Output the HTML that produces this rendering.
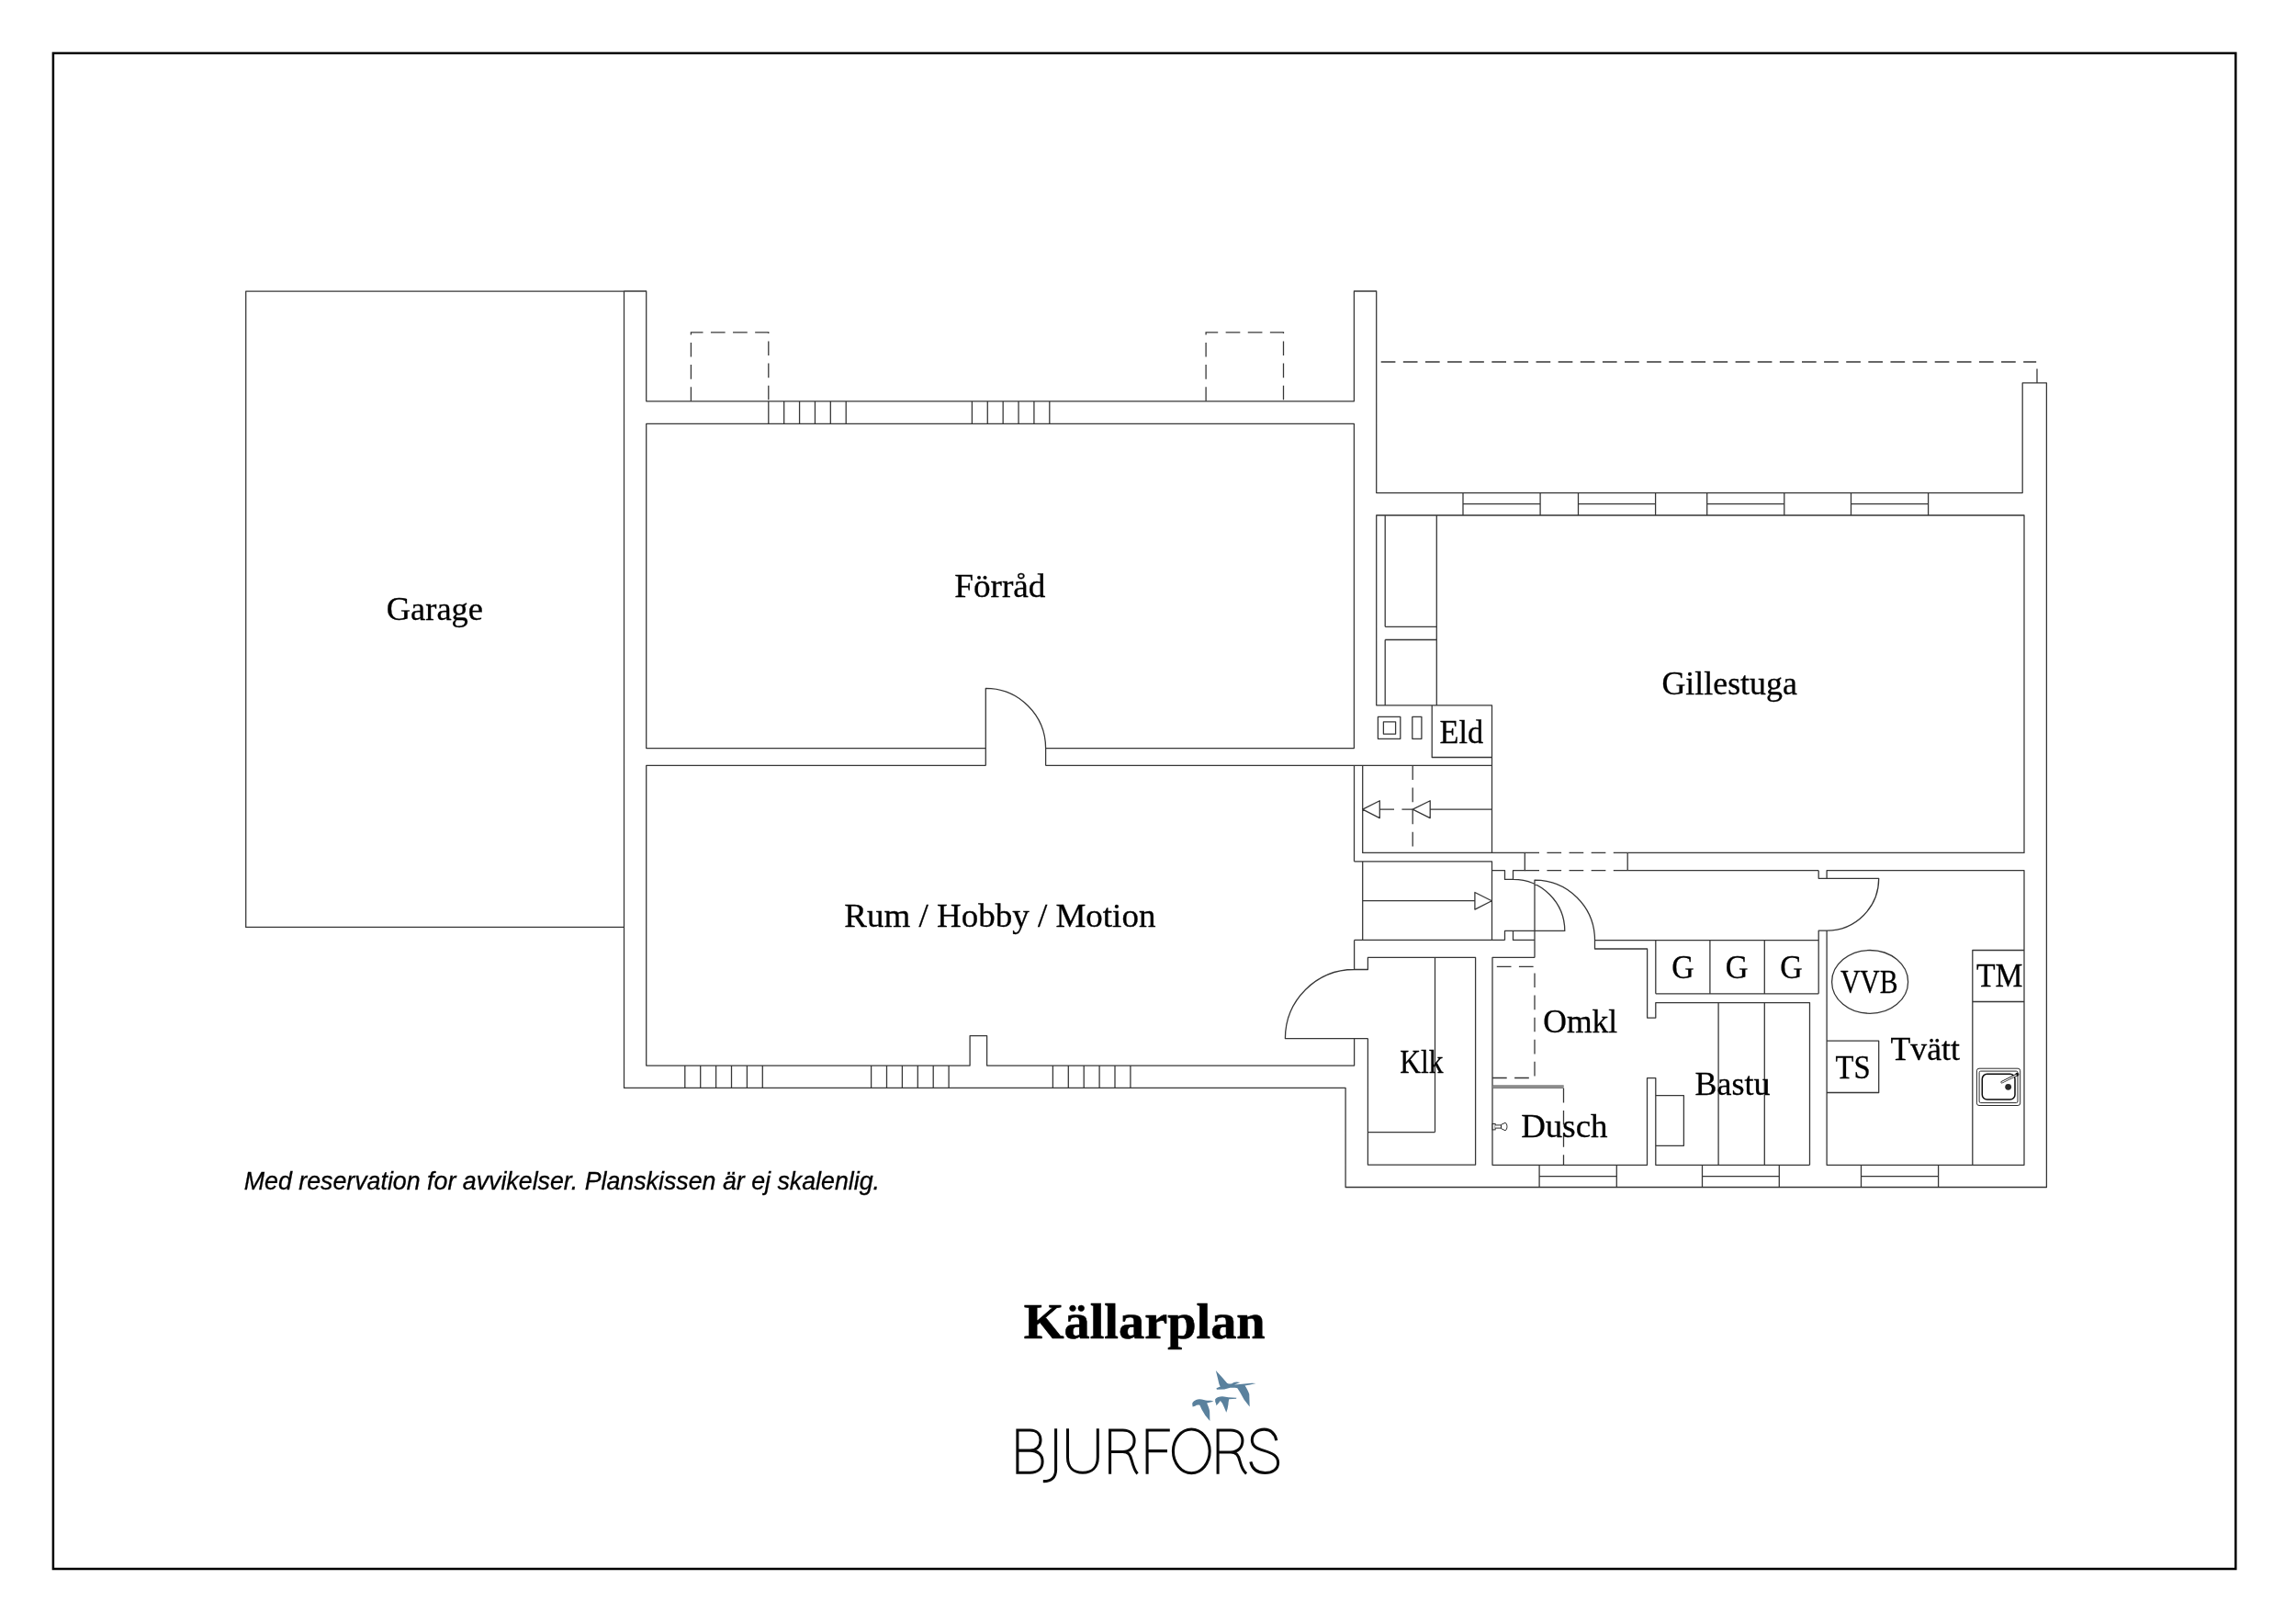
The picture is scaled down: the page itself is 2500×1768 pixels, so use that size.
<!DOCTYPE html>
<html lang="sv"><head><meta charset="utf-8"><title>Källarplan</title>
<style>html,body{margin:0;padding:0;background:#fff;}body{width:2500px;height:1768px;position:relative;overflow:hidden;font-family:"Liberation Serif",serif;}</style>
</head><body>
<svg width="2500" height="1768" viewBox="0 0 2500 1768" style="position:absolute;left:0;top:0;display:block;will-change:transform">
<rect x="0" y="0" width="2500" height="1768" fill="#fff"/>
<rect x="57.9" y="57.9" width="2376.4" height="1650.1" fill="none" stroke="#000" stroke-width="2.5"/>
<path fill="none" stroke="#363636" stroke-width="1.28" stroke-linecap="butt" stroke-linejoin="round" d="M679.5,317.2H267.7V1009.4H679.5 M679.5,317H703.7V436.85H1474.4V317H1498.7V536.6H2202.2V416.9H2228.4V1292.5H1465.1V1184.4H679.5Z M1073.3,814.6H703.7V461.4H1474.4V814.6H1138.6 M1073.3,833.4V749.4A65.3,65.3 0 0 1 1138.6,814.6V833.4 M1073.3,833.4H703.7V1160.1H1056.1V1127.6H1074.6V1160.1H1474.6V1130.6 M1138.6,833.4H1624.5 M836.8,436.85V461.4 M853.68,436.85V461.4 M870.56,436.85V461.4 M887.44,436.85V461.4 M904.32,436.85V461.4 M921.2,436.85V461.4 M1058.4,436.85V461.4 M1075.28,436.85V461.4 M1092.16,436.85V461.4 M1109.04,436.85V461.4 M1125.92,436.85V461.4 M1142.8,436.85V461.4 M745.8,1160.1V1184.4 M762.7,1160.1V1184.4 M779.6,1160.1V1184.4 M796.5,1160.1V1184.4 M813.4,1160.1V1184.4 M830.3,1160.1V1184.4 M948.6,1160.1V1184.4 M965.5,1160.1V1184.4 M982.4,1160.1V1184.4 M999.3,1160.1V1184.4 M1016.2,1160.1V1184.4 M1033.1,1160.1V1184.4 M1146.4,1160.1V1184.4 M1163.3,1160.1V1184.4 M1180.2,1160.1V1184.4 M1197.1,1160.1V1184.4 M1214,1160.1V1184.4 M1230.9,1160.1V1184.4 M2218,401.4V416.9 M1593,536.6V561 M1677.1,536.6V561 M1593,548.7H1677.1 M1718.5,536.6V561 M1802.6,536.6V561 M1718.5,548.7H1802.6 M1858.7,536.6V561 M1942.8,536.6V561 M1858.7,548.7H1942.8 M2015.5,536.6V561 M2099.6,536.6V561 M2015.5,548.7H2099.6 M1772.2,928.4H2204V561H1498.7V767.8H1624.5V928.4 M1508.2,561V682.3 M1508.2,696.5V767.8 M1564.3,561V767.8 M1508.2,682.3H1564.3 M1508.2,696.5H1564.3 M1559.2,767.8V824.5H1624.5 M1500.4,780.3H1524.8V804.3H1500.4Z M1506.4,785.9H1519.6V799.1H1506.4Z M1537.8,780.3H1547.9V804.3H1537.8Z M1474.5,833.4V937.8 M1483.7,833.4V928.4H1660.3V947.7H1647.5V957.4 M1474.5,937.8H1624.5V1023.4 M1483.7,937.8V1023.4 M1624.5,947.7H1638.5V957.4H1647.5 M1474.6,1023.4H1638.5 M1772.2,928.4V947.7 M1772.2,947.7H1980.2 M1647.5,957.4A56.2,56.2 0 0 1 1703.8,1013.4H1638.5V1023.4 M1647.5,1013.4V1023.4H1671 M1671,1042.4V958.1A65.4,65.4 0 0 1 1736.5,1023.4V1033H1793.6V1108.1H1802.8V1091.6H1970.5V1268.3 M1736.5,1023.6H1980.2 M1671,1042.4H1625V1268.3H1793.5V1173.7H1802.8V1268.3H1970.5 M1483.7,881.1L1502.3,871.7V890.6Z M1538.2,881.1L1557.2,871.7V890.6Z M1557.2,881.1H1624.5 M1483.7,980.7H1605.9 M1624.3,980.7L1605.9,971.5V990.1Z M1474.6,1023.4V1055.5H1489.4V1042.3H1606.6V1268.1H1489.4V1130.6 M1562.5,1042.3V1232.6 M1489.4,1232.6H1562.5 M1474.6,1055.5A75.15,75.15 0 0 0 1399.4,1130.6H1489.4 M1980.2,947.7V956.3H2045.7A56.6,56.6 0 0 1 1989.1,1013.1H1980.2V1023.6 M1989.1,956.3V947.7H2204V1268.3H1989.1V1013.1 M1802.8,1023.6V1081.8 M1861.9,1023.6V1081.8 M1921.3,1023.6V1081.8 M1980.2,1023.6V1081.8 M1802.8,1081.8H1980.2 M1871.1,1091.6V1268.3 M1921.3,1091.6V1268.3 M1802.8,1192.7H1833.4V1247.3H1802.8Z M1676.1,1268.3V1292.5 M1760.3,1268.3V1292.5 M1676.1,1280.6H1760.3 M1853.5,1268.3V1292.5 M1937.3,1268.3V1292.5 M1853.5,1280.6H1937.3 M2026.5,1268.3V1292.5 M2110.6,1268.3V1292.5 M2026.5,1280.6H2110.6 M2204,1034.5H2147.8V1268.3 M2147.8,1090.5H2204 M1989.1,1133.2H2045.7V1189.5H1989.1"/>
<path fill="none" stroke="#363636" stroke-width="1.28" stroke-dasharray="15.7 8.42" d="M752.4,436.85V361.9H836.8V436.85 M1313.1,436.85V361.9H1397.5V436.85 M1503.7,394H2217.2 M1660.3,928.4H1772.2 M1660.3,947.7H1772.2 M1538.2,833.4V923 M1502.3,881.1H1538.2 M1629.8,1052.35H1671V1172.5 M1625,1173.5H1668 M1702.5,1184.8V1268.1"/>
<ellipse cx="2036.1" cy="1068.9" rx="41.5" ry="34.4" fill="none" stroke="#363636" stroke-width="1.28"/>

<g fill="none" stroke="#2c2c2c" stroke-width="1">
<rect x="2152.4" y="1163.2" width="47.3" height="40.3" rx="2.6"/>
<rect x="2155.1" y="1166.1" width="41.9" height="34.5" rx="1.6"/>
</g>
<rect x="2158.3" y="1169.3" width="35.7" height="27.8" rx="5.4" fill="none" stroke="#0a0a0a" stroke-width="1.5"/>
<circle cx="2186.65" cy="1183.35" r="3.4" fill="#2a2a2a"/>
<circle cx="2196.4" cy="1169.8" r="2" fill="#1a1a1a"/>
<path d="M2179.75,1178.2L2196,1170" stroke="#1a1a1a" stroke-width="2.6" stroke-linecap="round"/>
<path d="M2179.75,1178.2L2195.2,1170.4" stroke="#fff" stroke-width="1.1" stroke-linecap="round"/>
<g fill="#fff" stroke="#151515" stroke-width="0.9">
<rect x="1625.1" y="1223.4" width="3" height="6.5"/>
<path d="M1628.1,1224.9H1634.5V1228.1H1628.1"/>
<path d="M1634.5,1224.4L1639,1222.3C1641.6,1223.5 1641.6,1229.5 1639,1230.8L1634.5,1228.6Z"/>
</g>
<path d="M1625,1182.2H1702.6M1625,1184.3H1702.6" stroke="#555" stroke-width="1.2" fill="none"/>
<rect x="1625" y="1181.7" width="77.6" height="3.1" fill="#888" opacity="0.8"/>

<g fill="#000" stroke="#000" stroke-width="0.3">
<text transform="translate(420.74,674.8) scale(1.0392,1)" font-family='"Liberation Serif", serif' font-size="35.1">Garage</text>
<text transform="translate(1039.26,650) scale(1.0603,1)" font-family='"Liberation Serif", serif' font-size="35.1">Förråd</text>
<text transform="translate(919.36,1009) scale(1.0539,1)" font-family='"Liberation Serif", serif' font-size="35.1">Rum / Hobby / Motion</text>
<text transform="translate(1809.47,756) scale(1.0215,1)" font-family='"Liberation Serif", serif' font-size="35.1">Gillestuga</text>
<text transform="translate(1567.62,808.8) scale(0.9751,1)" font-family='"Liberation Serif", serif' font-size="35.1">Eld</text>
<text transform="translate(1820.35,1064.8) scale(0.9626,1)" font-family='"Liberation Serif", serif' font-size="35.1">G</text>
<text transform="translate(1878.83,1064.8) scale(0.9756,1)" font-family='"Liberation Serif", serif' font-size="35.1">G</text>
<text transform="translate(1938.25,1064.8) scale(0.9626,1)" font-family='"Liberation Serif", serif' font-size="35.1">G</text>
<text transform="translate(2003.9,1081.1) scale(0.8460,1)" font-family='"Liberation Serif", serif' font-size="35.1">VVB</text>
<text transform="translate(2152.06,1073.9) scale(0.9595,1)" font-family='"Liberation Serif", serif' font-size="35.1">TM</text>
<text transform="translate(1998.57,1173.6) scale(0.9291,1)" font-family='"Liberation Serif", serif' font-size="35.1">TS</text>
<text transform="translate(2058.54,1153.7) scale(1.0163,1)" font-family='"Liberation Serif", serif' font-size="35.1">Tvätt</text>
<text transform="translate(1845.48,1191.8) scale(1.0254,1)" font-family='"Liberation Serif", serif' font-size="35.1">Bastu</text>
<text transform="translate(1680.28,1123.9) scale(1.0126,1)" font-family='"Liberation Serif", serif' font-size="35.1">Omkl</text>
<text transform="translate(1524.27,1167.8) scale(0.8971,1)" font-family='"Liberation Serif", serif' font-size="35.1">Klk</text>
<text transform="translate(1656.16,1238.1) scale(1.0526,1)" font-family='"Liberation Serif", serif' font-size="35.1">Dusch</text>
<text transform="translate(265.7,1294.7) scale(0.9809,1)" font-family='"Liberation Sans", sans-serif' font-size="27.3" font-style="italic">Med reservation for avvikelser. Planskissen är ej skalenlig.</text>
<text transform="translate(1114.64,1456.9) scale(1.0120,1)" font-family='"Liberation Serif", serif' font-size="55.7" font-weight="bold" stroke-width="0.6">Källarplan</text>
</g>

<g fill="none" stroke="#0a0a0a" stroke-width="3.05" stroke-linecap="butt" stroke-linejoin="miter">
<path d="M1107.9,1579.1V1556.9H1121.5C1129,1556.9 1133,1561.5 1133,1567.8C1133,1574.5 1128.5,1579.1 1121.5,1579.1H1107.9V1603.2H1121.5C1130,1603.2 1135.1,1598.5 1135.1,1591C1135.1,1584 1130,1579.1 1121.5,1579.1"/>
<path d="M1149.6,1555.3V1600C1149.6,1608.5 1144.5,1612.9 1135.8,1612.6"/>
<path d="M1162.5,1555.3V1586.5C1162.5,1597.5 1169,1603.3 1178.9,1603.3C1188.8,1603.3 1195.3,1597.5 1195.3,1586.5V1555.3"/>
<path d="M1208.6,1604.8V1556.9H1222.5C1230.5,1556.9 1235.1,1561.5 1235.1,1568.4C1235.1,1575.5 1230.5,1580.5 1222.5,1580.5H1208.6M1222.5,1580.5C1229,1580.5 1230.8,1584 1232.3,1590C1233.8,1596 1235.3,1601 1238.6,1604.4"/>
<path d="M1249.1,1604.8V1556.9H1273.8M1249.1,1579.6H1271"/>
<ellipse cx="1297.3" cy="1579.85" rx="19.9" ry="23.9"/>
<path d="M1326.1,1604.8V1556.9H1340C1348,1556.9 1352.9,1561.5 1352.9,1568.4C1352.9,1575.5 1348,1580.9 1340,1580.9H1326.1M1340,1580.9C1346.5,1580.9 1348.5,1584.5 1350,1590.5C1351.5,1596.5 1353.3,1601.3 1357.1,1604.4"/>
<path d="M1389.8,1568.3C1388.5,1560.5 1383.5,1556.1 1376.6,1556.1C1369,1556.1 1363.3,1560.8 1363.3,1567.8C1363.3,1574.5 1368.5,1577 1376.6,1579.4C1385.5,1582 1391.6,1585 1391.6,1592.4C1391.6,1599.5 1385.5,1603.5 1377.5,1603.5C1369,1603.5 1363.5,1599 1361.8,1591.4"/>
</g>
<g fill="#5a819d" transform="translate(1290,1485) scale(0.043103)">
<path d="M785,160L940,330L1070,480C1110,500 1150,505 1190,495C1230,455 1300,435 1400,465L1250,520L1450,505L1700,480L1800,490L1650,520L1520,545C1560,600 1610,690 1630,760L1640,1080L1500,900L1400,720L1330,610C1250,590 1200,600 1150,600L1000,640L810,645L800,610L900,570C870,520 855,450 840,380Z"/>
<path d="M190,1000C210,930 300,880 380,885C450,890 520,910 570,925L660,920L730,945L650,965L560,985C590,1050 620,1120 630,1200L635,1440L520,1300L430,1150L380,1040C340,1025 300,1030 260,1060L200,1080Z"/>
<path d="M770,890C800,840 880,815 950,815C1010,818 1060,832 1100,842L1310,850L1300,875L1120,890C1110,930 1100,980 1100,1020L1080,1130L1050,1225L1000,1100L950,990L900,930L860,980L800,1050L790,1000L770,950Z"/>
</g>

</svg>
</body></html>
